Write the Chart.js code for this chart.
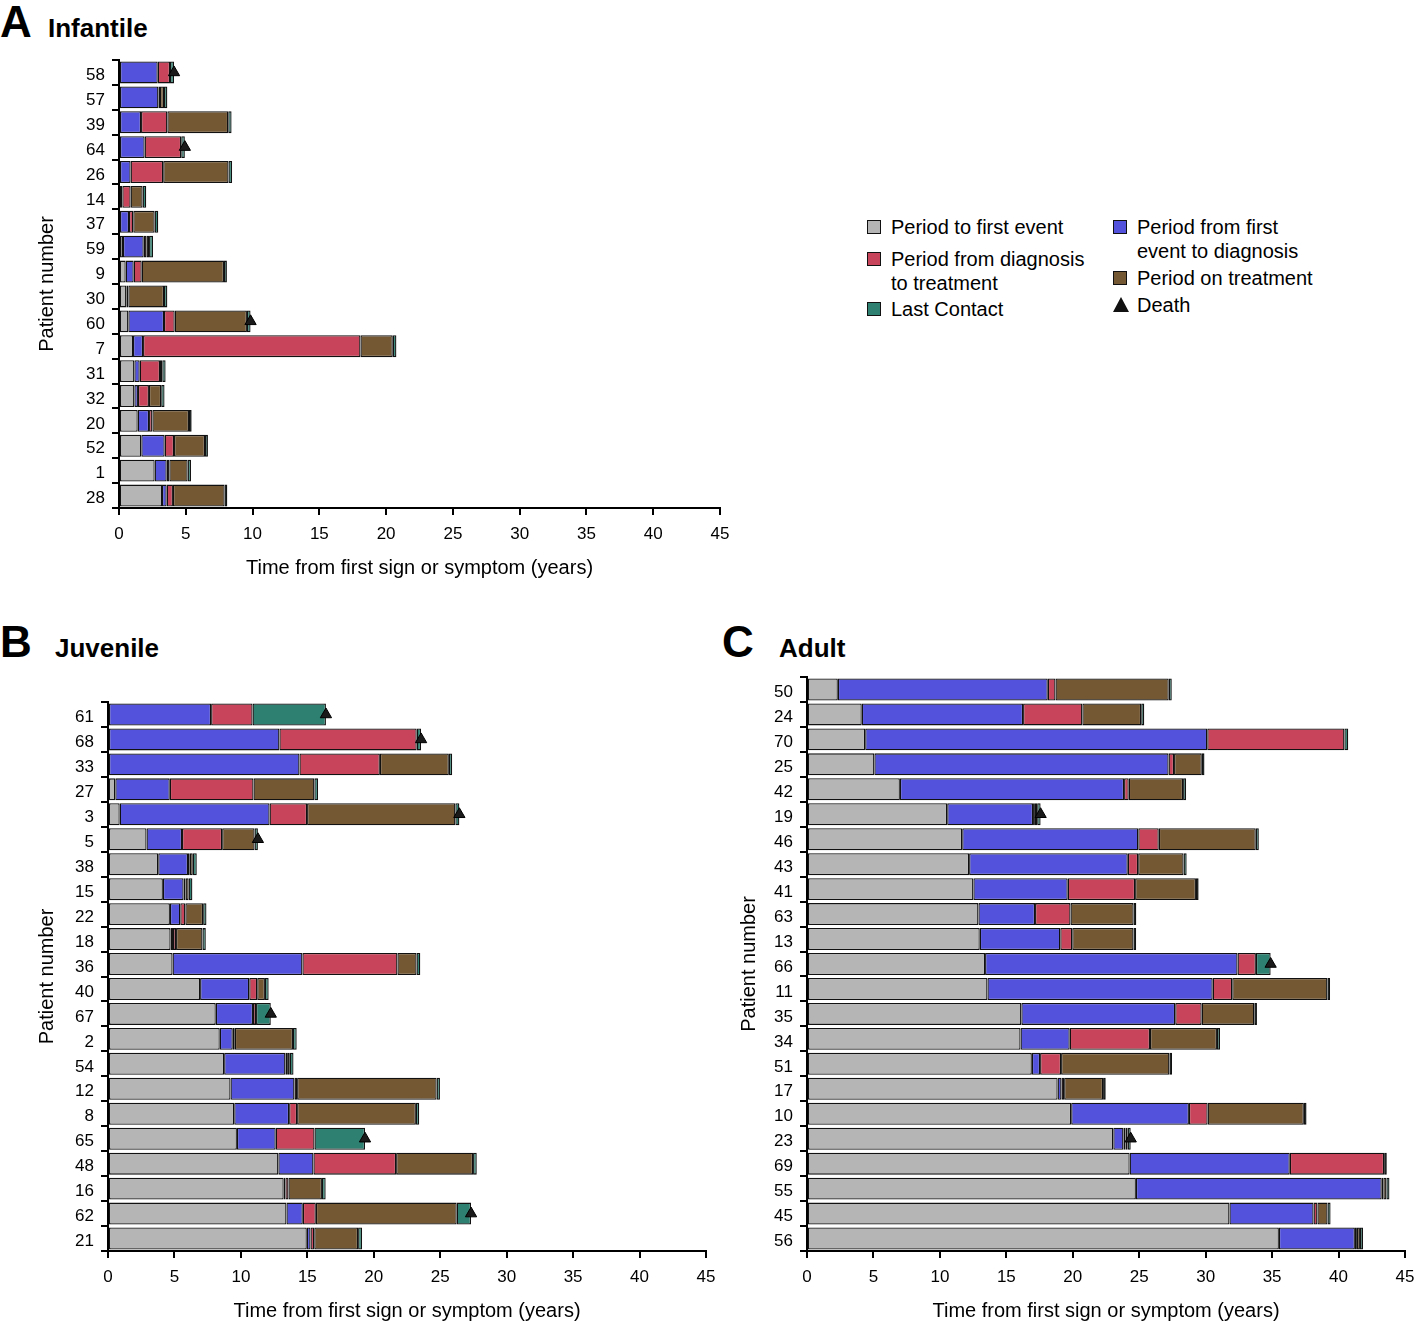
<!DOCTYPE html>
<html>
<head>
<meta charset="utf-8">
<script src="https://cdn.jsdelivr.net/npm/chart.js@4.4.0/dist/chart.umd.min.js"></script>
<style>
  body { margin: 0; width: 1416px; height: 1321px; overflow: hidden; background: #fff; position: relative;
         font-family: 'Liberation Sans', Arial, sans-serif; color: #000; }
  .panel { position: absolute; }
  .letter { position: absolute; font-weight: bold; font-size: 44px; line-height: 1; }
  .name { position: absolute; font-weight: bold; font-size: 26px; line-height: 1; }
  .lg { position: absolute; font-size: 20px; line-height: 24px; }
  .lg .sw { position: absolute; left: 0; top: 5px; width: 12px; height: 12px; border: 1.5px solid #111; }
  .lg .tri { position: absolute; left: 0; top: 4px; width: 0; height: 0;
             border-left: 8px solid transparent; border-right: 8px solid transparent; border-bottom: 15px solid #111; }
  .lg .tx { position: absolute; left: 24px; top: 0; white-space: nowrap; }
</style>
</head>
<body>

<div class="letter" style="left:0;top:0">A</div>
<div class="name" style="left:48px;top:15px">Infantile</div>
<div class="letter" style="left:0;top:620px">B</div>
<div class="name" style="left:55px;top:635px">Juvenile</div>
<div class="letter" style="left:722px;top:620px">C</div>
<div class="name" style="left:779px;top:635px">Adult</div>

<div class="lg" style="left:867px;top:215px"><span class="sw" style="background:#b5b5b5"></span><span class="tx">Period to first event</span></div>
<div class="lg" style="left:867px;top:247px"><span class="sw" style="background:#c8445a"></span><span class="tx">Period from diagnosis<br>to treatment</span></div>
<div class="lg" style="left:867px;top:297px"><span class="sw" style="background:#2e8070"></span><span class="tx">Last Contact</span></div>
<div class="lg" style="left:1113px;top:215px"><span class="sw" style="background:#5252dc"></span><span class="tx">Period from first<br>event to diagnosis</span></div>
<div class="lg" style="left:1113px;top:266px"><span class="sw" style="background:#745834"></span><span class="tx">Period on treatment</span></div>
<div class="lg" style="left:1113px;top:293px"><span class="tri"></span><span class="tx">Death</span></div>

<div class="panel" id="pA"><canvas id="chartA"></canvas></div>
<div class="panel" id="pB"><canvas id="chartB"></canvas></div>
<div class="panel" id="pC"><canvas id="chartC"></canvas></div>

<script>
// Durations in years, listed top to bottom as in the figure

// A - Infantile
const infantileIds = ['58','57','39','64','26','14','37','59','9','30','60','7','31','32','20','52','1','28'];
const infantileFirstEvent  = [0, 0, 0, 0, 0, 0, 0, 0.3, 0.5, 0.55, 0.7, 1.05, 1.15, 1.15, 1.4, 1.67, 2.67, 3.22];
const infantileToDiagnosis = [2.9, 2.95, 1.65, 1.92, 0.87, 0.25, 0.75, 1.55, 0.6, 0.15, 2.67, 0.75, 0.4, 0.27, 0.85, 1.75, 0.9, 0.35];
const infantileToTreatment = [0.92, 0.12, 1.97, 2.74, 2.44, 0.62, 0.32, 0.2, 0.6, 0, 0.8, 16.28, 1.52, 0.82, 0.25, 0.7, 0.2, 0.47];
const infantileOnTreatment = [0, 0.3, 4.56, 0, 4.89, 0.9, 1.6, 0.2, 6.16, 2.67, 5.41, 2.42, 0.17, 0.92, 2.74, 2.32, 1.37, 3.87];
const infantileLastContact = [0.3, 0.25, 0.25, 0.27, 0.27, 0.27, 0.27, 0.3, 0.22, 0.25, 0.27, 0.27, 0.25, 0.25, 0.2, 0.22, 0.25, 0.2];
const infantileDeath       = [1, 0, 0, 1, 0, 0, 0, 0, 0, 0, 1, 0, 0, 0, 0, 0, 0, 0];

// B - Juvenile
const juvenileIds = ['61','68','33','27','3','5','38','15','22','18','36','40','67','2','54','12','8','65','48','16','62','21'];
const juvenileFirstEvent  = [0, 0, 0, 0.55, 0.88, 2.9, 3.78, 4.13, 4.66, 4.71, 4.86, 6.93, 8.11, 8.41, 8.74, 9.22, 9.5, 9.7, 12.82, 13.22, 13.43, 14.96];
const juvenileToDiagnosis = [7.76, 12.9, 14.41, 4.1, 11.28, 2.67, 2.24, 1.56, 0.78, 0.18, 9.77, 3.7, 2.8, 0.98, 4.61, 4.81, 4.13, 2.92, 2.64, 0.13, 1.23, 0.28];
const juvenileToTreatment = [3.12, 10.33, 6.05, 6.3, 2.82, 3.02, 0.13, 0.15, 0.38, 0.23, 7.15, 0.6, 0.23, 0.15, 0.13, 0.2, 0.6, 2.92, 6.22, 0.23, 0.98, 0.28];
const juvenileOnTreatment = [0, 0, 5.19, 4.58, 11.16, 2.44, 0.23, 0.23, 1.34, 1.99, 1.44, 0.58, 0, 4.38, 0.2, 10.5, 8.94, 0, 5.79, 2.52, 10.6, 3.3];
const juvenileLastContact = [5.52, 0.33, 0.25, 0.28, 0.3, 0.25, 0.3, 0.28, 0.25, 0.25, 0.28, 0.28, 1.11, 0.28, 0.28, 0.25, 0.25, 3.8, 0.28, 0.28, 1.08, 0.3];
const juvenileDeath       = [1, 1, 0, 0, 1, 1, 0, 0, 0, 0, 0, 0, 1, 0, 0, 0, 0, 1, 0, 0, 1, 0];

// C - Adult
const adultIds = ['50','24','70','25','42','19','46','43','41','63','13','66','11','35','34','51','17','10','23','69','55','45','56'];
const adultFirstEvent  = [2.32, 4.12, 4.38, 5.07, 6.99, 10.55, 11.68, 12.2, 12.52, 12.9, 13.0, 13.4, 13.58, 16.13, 16.07, 16.92, 18.86, 19.88, 23.05, 24.28, 24.75, 31.79, 35.51];
const adultToDiagnosis = [15.8, 12.14, 25.74, 22.14, 16.87, 6.46, 13.25, 11.94, 7.1, 4.26, 6.06, 19.0, 16.95, 11.58, 3.7, 0.62, 0.29, 8.86, 0.76, 12.05, 18.5, 6.33, 5.72];
const adultToTreatment = [0.58, 4.46, 10.32, 0.41, 0.35, 0.14, 1.54, 0.78, 5.07, 2.67, 0.9, 1.38, 1.47, 1.99, 6.04, 1.58, 0.2, 1.41, 0.15, 7.1, 0.12, 0.29, 0.15];
const adultOnTreatment = [8.52, 4.43, 0, 2.09, 4.09, 0.17, 7.3, 3.42, 4.58, 4.75, 4.61, 0, 7.16, 3.96, 5.04, 8.15, 2.93, 7.24, 0.17, 0, 0.23, 0.76, 0.23];
const adultLastContact = [0.23, 0.23, 0.29, 0.2, 0.23, 0.26, 0.23, 0.23, 0.2, 0.2, 0.2, 1.11, 0.2, 0.2, 0.23, 0.2, 0.2, 0.2, 0.23, 0.2, 0.23, 0.23, 0.23];
const adultDeath       = [0, 0, 0, 0, 0, 1, 0, 0, 0, 0, 0, 1, 0, 0, 0, 0, 0, 0, 1, 0, 0, 0, 0];

const segmentNames  = ['Period to first event', 'Period from first event to diagnosis', 'Period from diagnosis to treatment', 'Period on treatment', 'Last Contact'];
const segmentColors = ['#b5b5b5', '#5252dc', '#c8445a', '#745834', '#2e8070'];
const xTicks = { min: 0, max: 45, step: 5 };

Chart.defaults.font.family = "'Liberation Sans', Arial, sans-serif";
Chart.defaults.color = '#000';

// geo: canvas position and the wanted plot box, all in page pixels
function makePanel(canvasId, ids, segs, deaths, geo) {
  const xHeight = geo.xHeight || 82;
  const padRight = geo.padRight || 20;
  const cv = document.getElementById(canvasId);
  const wrap = cv.parentNode;
  wrap.style.left = geo.left + 'px';
  wrap.style.top = geo.top + 'px';
  cv.width = geo.chartR - geo.left + padRight;
  cv.height = geo.chartB - geo.top + xHeight;

  const totals = ids.map((_, i) => segs.reduce((s, a) => s + a[i], 0));

  const datasets = segs.map((d, k) => ({
    type: 'bar',
    label: segmentNames[k],
    data: d,
    backgroundColor: segmentColors[k],
    borderColor: '#111',
    borderWidth: 1.3,
    borderSkipped: false,
    barPercentage: 0.88,
    categoryPercentage: 1
  }));
  datasets.push({
    type: 'line',
    label: 'Death',
    data: totals.map((t, i) => deaths[i] ? t : null),
    showLine: false,
    pointStyle: 'triangle',
    pointRadius: 6.5,
    pointBackgroundColor: '#1a1a1a',
    pointBorderColor: '#000',
    pointBorderWidth: 1,
    order: -1
  });

  const axisLine = { color: '#000', width: 2 };
  const tickGrid = { drawOnChartArea: false, drawTicks: true, tickLength: 7, color: '#000', lineWidth: 2 };

  return new Chart(cv, {
    type: 'bar',
    data: { labels: ids, datasets: datasets },
    options: {
      indexAxis: 'y',
      responsive: false,
      animation: false,
      layout: { padding: { top: geo.chartT - geo.top, right: padRight, left: 0, bottom: 0 } },
      plugins: { legend: { display: false }, tooltip: { enabled: false } },
      scales: {
        x: {
          type: 'linear',
          stacked: true,
          min: xTicks.min,
          max: xTicks.max,
          ticks: { stepSize: xTicks.step, font: { size: 17 }, padding: 9, color: '#000' },
          grid: tickGrid,
          border: axisLine,
          title: {
            display: true,
            text: 'Time from first sign or symptom (years)',
            color: '#000',
            font: { size: 20 },
            padding: { top: 0, bottom: xHeight - 60 - 12 }
          },
          afterFit: s => { s.height = xHeight; }
        },
        y: {
          stacked: true,
          ticks: { font: { size: 17 }, padding: 7, labelOffset: 3, autoSkip: false, color: '#000' },
          grid: tickGrid,
          border: axisLine,
          title: {
            display: true,
            text: 'Patient number',
            color: '#000',
            font: { size: 20 },
            padding: { top: geo.yTitleX - geo.left - 12, bottom: 0 }
          },
          afterFit: s => { s.width = geo.chartL - geo.left; }
        }
      }
    }
  });
}

makePanel('chartA', infantileIds,
  [infantileFirstEvent, infantileToDiagnosis, infantileToTreatment, infantileOnTreatment, infantileLastContact],
  infantileDeath,
  { left: 0, top: 40, chartL: 119, chartT: 60, chartR: 720, chartB: 508, yTitleX: 47 });

makePanel('chartB', juvenileIds,
  [juvenileFirstEvent, juvenileToDiagnosis, juvenileToTreatment, juvenileOnTreatment, juvenileLastContact],
  juvenileDeath,
  { left: 0, top: 682, chartL: 108, chartT: 702, chartR: 706, chartB: 1251, yTitleX: 47, xHeight: 72, padRight: 22 });

makePanel('chartC', adultIds,
  [adultFirstEvent, adultToDiagnosis, adultToTreatment, adultOnTreatment, adultLastContact],
  adultDeath,
  { left: 698, top: 657, chartL: 807, chartT: 677, chartR: 1405, chartB: 1251, yTitleX: 749, xHeight: 72, padRight: 22 });
</script>
</body>
</html>
